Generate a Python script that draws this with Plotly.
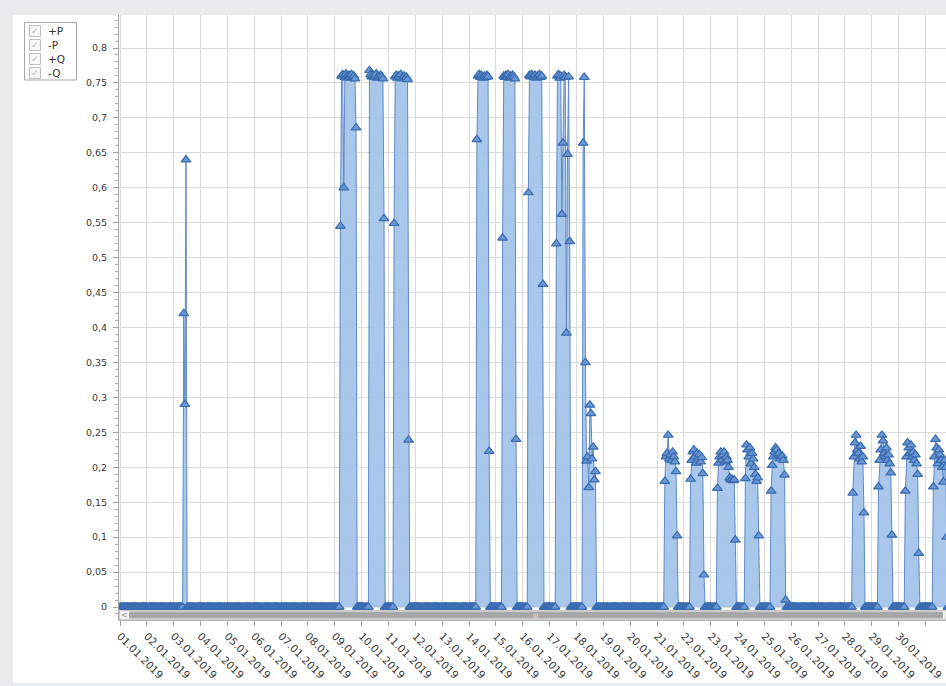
import pandas as pd
import plotly.graph_objects as go

# ---------------- data (hourly values) ----------------
day_ticks = ["2019-01-01", "2019-01-02", "2019-01-03", "2019-01-04", "2019-01-05", "2019-01-06",
             "2019-01-07", "2019-01-08", "2019-01-09", "2019-01-10", "2019-01-11", "2019-01-12",
             "2019-01-13", "2019-01-14", "2019-01-15", "2019-01-16", "2019-01-17", "2019-01-18",
             "2019-01-19", "2019-01-20", "2019-01-21", "2019-01-22", "2019-01-23", "2019-01-24",
             "2019-01-25", "2019-01-26", "2019-01-27", "2019-01-28", "2019-01-29", "2019-01-30",
             "2019-01-31"]
day_labels = ["01.01.2019", "02.01.2019", "03.01.2019", "04.01.2019", "05.01.2019", "06.01.2019",
              "07.01.2019", "08.01.2019", "09.01.2019", "10.01.2019", "11.01.2019", "12.01.2019",
              "13.01.2019", "14.01.2019", "15.01.2019", "16.01.2019", "17.01.2019", "18.01.2019",
              "19.01.2019", "20.01.2019", "21.01.2019", "22.01.2019", "23.01.2019", "24.01.2019",
              "25.01.2019", "26.01.2019", "27.01.2019", "28.01.2019", "29.01.2019", "30.01.2019",
              "31.01.2019"]

y_tickvals = [0, 0.05, 0.1, 0.15, 0.2, 0.25, 0.3, 0.35, 0.4, 0.45, 0.5, 0.55, 0.6, 0.65, 0.7, 0.75, 0.8]
y_ticktext = ["0", "0,05", "0,1", "0,15", "0,2", "0,25", "0,3", "0,35", "0,4", "0,45", "0,5",
              "0,55", "0,6", "0,65", "0,7", "0,75", "0,8"]

series_start = "2019-01-01 00:00"
series_end = "2019-01-31 23:00"

# first hour of each active period (all other hours read as 0)
block_start = ["2019-01-03 09:00", "2019-01-09 05:00", "2019-01-10 07:00", "2019-01-11 05:00",
               "2019-01-14 07:00", "2019-01-15 06:00", "2019-01-16 05:00", "2019-01-17 06:00",
               "2019-01-18 06:00", "2019-01-21 07:00", "2019-01-22 06:00", "2019-01-23 06:00",
               "2019-01-24 07:00", "2019-01-25 06:00", "2019-01-28 07:00", "2019-01-29 06:00",
               "2019-01-30 06:00", "2019-01-31 07:00"]

jan03 = [0.42, 0.29, 0.64]
jan09 = [0.545, 0.760, 0.762, 0.600, 0.758, 0.763, 0.760, 0.757, 0.761, 0.759, 0.762, 0.758, 0.760, 0.756, 0.686]
jan10 = [0.768, 0.762, 0.759, 0.761, 0.758, 0.760, 0.763, 0.757, 0.760, 0.758, 0.761, 0.759, 0.756, 0.556]
jan11 = [0.549, 0.759, 0.761, 0.757, 0.760, 0.758, 0.762, 0.756, 0.759, 0.760, 0.757, 0.758, 0.755, 0.239]
jan14 = [0.669, 0.760, 0.762, 0.758, 0.761, 0.759, 0.757, 0.760, 0.758, 0.761, 0.759, 0.223]
jan15 = [0.528, 0.760, 0.758, 0.761, 0.759, 0.762, 0.757, 0.760, 0.758, 0.761, 0.759, 0.756, 0.240]
jan16 = [0.593, 0.761, 0.759, 0.762, 0.760, 0.758, 0.761, 0.757, 0.760, 0.759, 0.762, 0.758, 0.760, 0.462]
jan17 = [0.520, 0.760, 0.762, 0.757, 0.760, 0.562, 0.664, 0.761, 0.758, 0.392, 0.648, 0.759, 0.523]
jan18 = [0.664, 0.758, 0.350, 0.209, 0.215, 0.171, 0.289, 0.277, 0.212, 0.229, 0.182, 0.194]
jan21 = [0.180, 0.215, 0.220, 0.246, 0.212, 0.218, 0.210, 0.222, 0.215, 0.208, 0.194, 0.102]
jan22 = [0.183, 0.210, 0.222, 0.225, 0.215, 0.206, 0.220, 0.212, 0.218, 0.208, 0.214, 0.191, 0.046]
jan23 = [0.170, 0.206, 0.215, 0.222, 0.210, 0.218, 0.222, 0.208, 0.215, 0.210, 0.200, 0.185, 0.182,
         0.183, 0.181, 0.182, 0.096]
jan24 = [0.184, 0.232, 0.225, 0.215, 0.228, 0.205, 0.220, 0.212, 0.200, 0.190, 0.180, 0.185, 0.102]
jan25 = [0.166, 0.203, 0.215, 0.222, 0.228, 0.225, 0.218, 0.220, 0.212, 0.215, 0.216, 0.210, 0.189, 0.010]
jan28 = [0.163, 0.215, 0.235, 0.246, 0.225, 0.220, 0.212, 0.230, 0.208, 0.215, 0.135]
jan29 = [0.172, 0.210, 0.225, 0.246, 0.238, 0.220, 0.215, 0.228, 0.210, 0.218, 0.205, 0.192, 0.103]
jan30 = [0.166, 0.215, 0.235, 0.228, 0.220, 0.232, 0.215, 0.222, 0.210, 0.218, 0.205, 0.190, 0.077]
jan31 = [0.172, 0.215, 0.240, 0.228, 0.205, 0.225, 0.218, 0.210, 0.200, 0.179, 0.210, 0.200, 0.100]

legend_names = ["+P", "-P", "+Q", "-Q"]

blocks = [jan03, jan09, jan10, jan11, jan14, jan15, jan16, jan17, jan18,
          jan21, jan22, jan23, jan24, jan25, jan28, jan29, jan30, jan31]

# ---------------- build series ----------------
idx = pd.date_range(series_start, series_end, freq="h")
vals = pd.Series(0.0, index=idx)
for st, blk in zip(block_start, blocks):
    vals.loc[pd.date_range(st, periods=len(blk), freq="h")] = blk

# ---------------- geometry helpers (pixel -> paper) ----------------
W, H = 946, 686
L, R, T, B = 119, 946, 15, 620


def px(x):
    return (x - L) / (R - L)


def py(y):
    return (B - y) / (B - T)


fig = go.Figure()
fig.add_trace(go.Scatter(
    x=idx, y=vals, mode="lines+markers", fill="tozeroy",
    fillcolor="rgba(162,194,233,0.92)",
    line=dict(color="#5f8ac6", width=1),
    marker=dict(symbol="triangle-up", size=8.5, color="#6a97d3",
                line=dict(color="#3a6bb0", width=1.2)),
    showlegend=False, hoverinfo="skip"))

shapes = []
annotations = []

# white panel behind everything
shapes.append(dict(type="rect", xref="paper", yref="paper", layer="below",
                   x0=px(13), x1=px(946), y0=py(683), y1=py(15),
                   fillcolor="white", line=dict(width=0)))

# scrollbar
shapes.append(dict(type="rect", xref="paper", yref="paper", layer="above",
                   x0=px(119.5), x1=px(946), y0=py(619.5), y1=py(610.5),
                   fillcolor="#f3f3f3", line=dict(color="#c9c9c9", width=1)))
shapes.append(dict(type="rect", xref="paper", yref="paper", layer="above",
                   x0=px(129), x1=px(943), y0=py(618.5), y1=py(611.5),
                   fillcolor="#a7a7a7", line=dict(width=0)))
annotations.append(dict(xref="paper", yref="paper", x=px(124), y=py(615), text="<",
                        showarrow=False, font=dict(size=8, color="#909090", family="DejaVu Sans"),
                        xanchor="center", yanchor="middle"))
annotations.append(dict(xref="paper", yref="paper", x=px(536), y=py(615), text="III",
                        showarrow=False, font=dict(size=6, color="#e6e6e6", family="DejaVu Sans"),
                        xanchor="center", yanchor="middle"))

# legend box with checkboxes
shapes.append(dict(type="rect", xref="paper", yref="paper", layer="above",
                   x0=px(24.5), x1=px(76.5), y0=py(80), y1=py(22.5),
                   fillcolor="white", line=dict(color="#a8a8a8", width=1)))
row_y = [31, 45, 59, 73]
for name, ry in zip(legend_names, row_y):
    shapes.append(dict(type="rect", xref="paper", yref="paper", layer="above",
                       x0=px(29.5), x1=px(40.5), y0=py(ry + 5.5), y1=py(ry - 5.5),
                       fillcolor="#f6f6f6", line=dict(color="#bdbdbd", width=1)))
    annotations.append(dict(xref="paper", yref="paper", x=px(35), y=py(ry), text="✓",
                            showarrow=False, font=dict(size=9, color="#b8b8b8", family="DejaVu Sans"),
                            xanchor="center", yanchor="middle"))
    annotations.append(dict(xref="paper", yref="paper", x=px(46), y=py(ry), text=name,
                            showarrow=False, font=dict(size=10.5, color="#333333", family="DejaVu Sans"),
                            xanchor="left", yanchor="middle"))

ymin = -(B - 607) / 698.75
ymax = (607 - T) / 698.75

fig.update_layout(
    width=W, height=H,
    margin=dict(l=L, r=W - R, t=T, b=H - B, pad=0),
    paper_bgcolor="#e8ebef", plot_bgcolor="white",
    font=dict(family="DejaVu Sans", size=10, color="#3a3a3a"),
    shapes=shapes, annotations=annotations,
    xaxis=dict(type="date", range=["2018-12-31 23:06", "2019-01-31 18:20"],
               tickmode="array", tickvals=day_ticks, ticktext=day_labels,
               tickangle=45, tickfont=dict(size=10.5, color="#3a3a3a"),
               showgrid=True, gridcolor="#dcd9d9", gridwidth=1,
               ticks="outside", ticklen=5, tickcolor="#a0a0a0",
               showline=True, linecolor="#b8b8b8", linewidth=1,
               zeroline=False, fixedrange=True),
    yaxis=dict(range=[ymin, ymax], tickmode="array", tickvals=y_tickvals, ticktext=y_ticktext,
               tickfont=dict(size=9.5, color="#3a3a3a"),
               showgrid=True, gridcolor="#dcdcdc", gridwidth=1,
               ticks="outside", ticklen=5, tickcolor="#a0a0a0",
               showline=True, linecolor="#a8a8a8", linewidth=1,
               minor=dict(dtick=0.01, ticks="outside", ticklen=3, tickcolor="#b0b0b0", showgrid=False),
               zeroline=False, fixedrange=True, ticklabelstandoff=4),
)

fig.write_html("out.html",
               config={"displayModeBar": False},
               post_script="document.body.style.margin='0px';document.body.style.padding='0px';"
                           "document.body.style.overflow='hidden';")
